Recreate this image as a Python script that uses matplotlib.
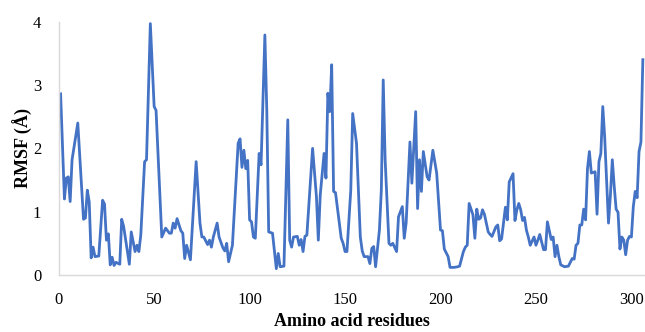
import matplotlib
matplotlib.use("Agg")
import matplotlib.pyplot as plt

residues = [1, 3, 4, 5, 6, 7, 10, 13, 14, 15, 16, 17, 18, 19, 21, 23, 24, 25, 26, 27,
            28, 29, 30, 32, 33, 34, 37, 38, 40, 41, 42, 43, 45, 46, 48,
            50, 51, 54, 56, 58, 59, 60, 61, 62, 64, 65, 66, 67, 69, 72, 74, 75, 76,
            78, 79, 80, 81, 83, 84, 86, 87, 88, 89, 91, 94, 95, 96, 97, 98, 99, 100,
            101, 102, 103, 105, 106, 108, 109, 110, 112, 114, 115, 116, 118, 120,
            121, 122, 123, 125, 126, 127, 128, 129, 130, 133, 135, 136, 137, 139,
            140, 141, 142, 143, 144, 145, 148, 149, 150, 151, 153, 154, 156, 158,
            159, 160, 162, 163, 164, 165, 166, 168, 169, 170, 171, 173, 174, 175,
            177, 178, 180, 181, 182, 184, 185, 187, 188, 189, 190, 191, 193, 194,
            196, 198, 200, 201, 202, 204, 205, 207, 209, 210, 212, 213, 214, 215,
            216, 217, 218, 219, 220, 221, 222, 223, 225, 226, 227, 229, 230, 231,
            232, 234, 235, 236, 238, 239, 240, 241, 242, 243, 244, 245, 246, 247,
            249, 250, 251, 252, 254, 255, 256, 258, 259, 260, 261, 262, 263, 265,
            267, 269, 270, 271, 272, 273, 274, 275, 276, 277, 278, 279, 281, 282,
            283, 284, 285, 286, 288, 289, 290, 291, 292, 293, 294, 295, 296, 297,
            298, 299, 300, 301, 302, 303, 304, 305, 306]

rmsf = [2.86, 1.20, 1.53, 1.55, 1.16, 1.82, 2.40, 0.88, 0.90, 1.34, 1.15, 0.27, 0.44, 0.29, 0.30, 1.18, 1.12, 0.55, 0.65, 0.16,
        0.28, 0.15, 0.20, 0.17, 0.88, 0.77, 0.17, 0.68, 0.37, 0.47, 0.37, 0.63, 1.79, 1.82, 3.97,
        2.66, 2.60, 0.60, 0.74, 0.66, 0.66, 0.82, 0.74, 0.89, 0.70, 0.66, 0.26, 0.47, 0.24, 1.79, 0.82, 0.60, 0.60,
        0.48, 0.55, 0.44, 0.60, 0.82, 0.60, 0.43, 0.38, 0.50, 0.21, 0.47, 2.08, 2.15, 1.70, 1.97, 1.68, 1.81, 0.87,
        0.84, 0.60, 0.58, 1.92, 1.74, 3.79, 2.61, 0.68, 0.66, 0.10, 0.34, 0.13, 0.14, 2.45,
        0.55, 0.44, 0.60, 0.61, 0.47, 0.56, 0.37, 0.61, 0.63, 2.00, 1.24, 0.55, 1.26, 1.92,
        1.53, 2.87, 2.58, 3.32, 1.32, 1.30, 0.58, 0.50, 0.37, 0.37, 1.34, 2.55, 2.08, 0.60,
        0.38, 0.29, 0.29, 0.18, 0.42, 0.45, 0.13, 0.71, 1.34, 3.08, 1.82, 0.50, 0.47, 0.50,
        0.37, 0.92, 1.08, 0.58, 0.82, 2.10, 1.45, 2.58, 1.05, 1.82, 1.32, 1.95, 1.55, 1.50,
        1.97, 1.61, 0.71, 0.70, 0.41, 0.29, 0.12, 0.12, 0.13, 0.14, 0.37, 0.44, 0.47, 1.13,
        1.04, 0.95, 0.58, 1.04, 0.88, 0.90, 1.03, 0.96, 0.68, 0.64, 0.61, 0.76, 0.79, 0.54,
        0.57, 1.07, 0.87, 1.47, 1.60, 0.86, 1.03, 1.13, 1.03, 0.86, 0.91, 0.71, 0.60, 0.47,
        0.60, 0.47, 0.55, 0.64, 0.40, 0.40, 0.84, 0.56, 0.60, 0.29, 0.47, 0.29, 0.16, 0.13,
        0.14, 0.26, 0.25, 0.47, 0.50, 0.79, 0.79, 1.04, 0.87, 1.68, 1.95, 1.61, 1.63, 0.96,
        1.79, 1.92, 2.66, 2.18, 0.82, 1.26, 1.82, 1.40, 1.04, 0.99, 0.41, 0.60, 0.55, 0.32,
        0.55, 0.61, 0.60, 1.08, 1.32, 1.22, 1.95, 2.10, 3.40]

x_ticks = [0, 50, 100, 150, 200, 250, 300]
y_ticks = [0, 1, 2, 3, 4]

plt.rcParams['font.family'] = ['Liberation Serif', 'DejaVu Serif']

fig = plt.figure(figsize=(6.45, 3.32), dpi=100)
ax = fig.add_axes([58.7/645, 1 - 275/332, (645 - 58.7)/645, (275 - 21.7)/332])

ax.plot(residues, rmsf, color='#4472C4', linewidth=2.0, solid_joinstyle='round')

ax.set_xlim(0, (645 - 58.7)/1.909)
ax.set_ylim(0, 4)
ax.set_xticks(x_ticks)
ax.set_yticks(y_ticks)
ax.tick_params(axis='both', length=0, labelsize=12)
ax.tick_params(axis='x', pad=12.5)
ax.tick_params(axis='y', pad=12.5)

for s in ['top', 'right']:
    ax.spines[s].set_visible(False)
for s in ['left', 'bottom']:
    ax.spines[s].set_color('#D9D9D9')
    ax.spines[s].set_linewidth(1.0)

ax.set_xlabel('Amino acid residues', fontsize=13, fontweight='bold', labelpad=3.5)
ax.set_ylabel('RMSF (Å)', fontsize=13, fontweight='bold', labelpad=0)

fig.savefig('out.png', dpi=100)
